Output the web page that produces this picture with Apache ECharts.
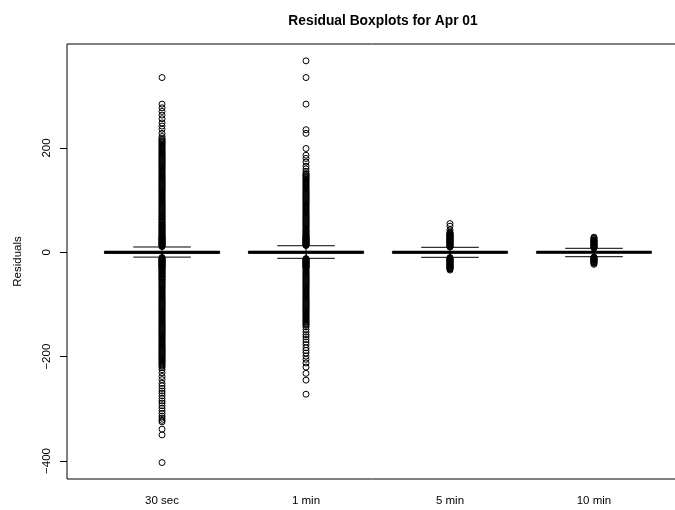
<!DOCTYPE html>
<html>
<head>
<meta charset="utf-8">
<title>Residual Boxplots for Apr 01</title>
<script src="https://cdn.jsdelivr.net/npm/echarts@6/dist/echarts.min.js"></script>
<style>
  html, body { margin: 0; padding: 0; background: #fff; }
  #chart { width: 675px; height: 510px; }
</style>
</head>
<body>
<div id="chart"></div>
<script>
// Aggregation windows shown along the x axis
const categories = ['30 sec', '1 min', '5 min', '10 min'];
const yTicks = [-400, -200, 0, 200];

// Five-number summaries per window
const whiskerLow  = [-9.2, -11.5, -9.6, -8.4];
const quartile1   = [-1.8, -1.6, -1.3, -0.8];
const medians     = [0, 0, 0, 0];
const quartile3   = [1.6, 1.7, 1.2, 0.8];
const whiskerHigh = [10.2, 12.6, 9.6, 7.7];

// Residuals lying beyond the whiskers
const outliers30s = [
  11, 12, 13, 14, 15, 16, 17, 18, 19, 20, 21, 22, 23, 24, 25, 26, 27, 28, 29, 30,
  32, 33, 35, 36, 38, 39, 41, 42, 44, 45, 47, 48, 50, 52, 53, 55, 57, 58, 60, 62,
  63, 65, 67, 69, 70, 72, 74, 76, 78, 80, 82, 84, 86, 88, 90, 92, 94, 96, 98, 100,
  102, 104, 106, 108, 110, 112, 114, 116, 118, 120, 122, 124, 126, 128, 130, 132,
  134, 136, 138, 140, 142, 144, 146, 148, 150, 152, 154, 156, 158, 160, 162, 164,
  166, 168, 170, 172, 174, 176, 178, 180, 182, 184, 186, 188, 190, 192, 194, 196,
  198, 200, 202, 204, 206, 208, 210, 212, 214, 216, 218,
  222, 228, 236, 242, 248, 256, 263, 270, 277, 284, 335,
  -10, -11, -12, -13, -14, -15, -16, -17, -18, -19, -20, -21, -22, -23, -24, -25,
  -26, -27, -28, -29, -30, -32, -33, -35, -36, -38, -39, -41, -42, -44, -46, -47,
  -49, -51, -52, -54, -56, -58, -60, -62, -64, -66, -68, -70, -72, -74, -76, -78,
  -80, -82, -84, -86, -88, -90, -92, -94, -96, -98, -100, -102, -104, -106, -108,
  -110, -112, -114, -116, -118, -120, -122, -124, -126, -128, -130, -132, -134,
  -136, -138, -140, -142, -144, -146, -148, -150, -152, -154, -156, -158, -160,
  -162, -164, -166, -168, -170, -172, -174, -176, -178, -180, -182, -184, -186,
  -188, -190, -192, -194, -196, -198, -200, -202, -204, -206, -208, -210, -212,
  -214, -216, -218, -221,
  -225, -231, -238, -244, -251, -256, -261, -266, -270, -275, -280, -285, -289,
  -294, -299, -304, -309, -314, -318, -322, -325, -339, -350, -403
];
const outliers1m = [
  13, 14, 15, 16, 17, 18, 19, 20, 21, 22, 23, 24, 25, 26, 27, 28, 29, 30, 32, 33,
  35, 36, 38, 40, 41, 43, 45, 47, 49, 51, 53, 55, 57, 59, 61, 63, 65, 67, 69, 71,
  73, 75, 77, 79, 81, 83, 85, 87, 89, 91, 93, 95, 97, 99, 101, 103, 105, 107, 109,
  111, 113, 115, 117, 119, 121, 123, 125, 127, 129, 131, 133, 135, 137, 139, 141,
  143, 145, 147, 149, 151,
  155, 160, 165, 173, 180, 186, 199, 228, 235, 284, 335, 367,
  -12, -13, -14, -15, -16, -17, -18, -19, -20, -21, -22, -23, -24, -25, -26, -27,
  -28, -29, -30, -32, -34, -36, -38, -40, -42, -44, -46, -48, -50, -52, -54, -56,
  -58, -60, -62, -64, -66, -68, -70, -72, -74, -76, -78, -80, -82, -84, -86, -88,
  -90, -92, -94, -96, -98, -100, -102, -104, -106, -108, -110, -112, -114, -116,
  -118, -120, -122, -124, -126, -128, -130, -132, -134, -136, -138, -140, -143,
  -148, -153, -158, -162, -167, -172, -177, -183, -188, -193, -199, -205, -212,
  -220, -232, -245, -272
];
const outliers5m = [
  10, 11, 12, 13, 14, 15, 16, 17, 18, 19, 20, 21, 22, 23, 24, 25, 26, 27, 28, 29,
  30, 31, 32, 33, 34, 35, 36, 37, 39, 43, 50, 55,
  -10, -11, -12, -13, -14, -15, -16, -17, -18, -19, -20, -21, -22, -23, -24, -25,
  -26, -27, -28, -29, -30, -31, -32, -34
];
const outliers10m = [
  8, 9, 10, 11, 12, 13, 14, 15, 16, 17, 18, 19, 20, 21, 22, 23, 24, 26, 27, 29,
  -9, -10, -11, -12, -13, -14, -15, -16, -17, -18, -19, -20, -21, -23
];

const outlierGroups = [outliers30s, outliers1m, outliers5m, outliers10m];

const boxData = categories.map((c, i) => [
  i + 1, whiskerLow[i], quartile1[i], medians[i], quartile3[i], whiskerHigh[i]
]);
const outlierData = [];
outlierGroups.forEach((vals, i) => {
  vals.forEach(v => outlierData.push([i + 1, v]));
});

const FONT = '"Liberation Sans", Arial, Helvetica, sans-serif';
const MINUS = '\u2212';

const chart = echarts.init(document.getElementById('chart'), null, { renderer: 'canvas' });

function renderBox(params, api) {
  const x = api.value(0);
  const cx = api.coord([x, 0])[0];
  const left = api.coord([x - 0.4, 0])[0];
  const right = api.coord([x + 0.4, 0])[0];
  const sLeft = api.coord([x - 0.2, 0])[0];
  const sRight = api.coord([x + 0.2, 0])[0];
  const yLo = api.coord([x, api.value(1)])[1];
  const yQ1 = api.coord([x, api.value(2)])[1];
  const yMed = api.coord([x, api.value(3)])[1];
  const yQ3 = api.coord([x, api.value(4)])[1];
  const yHi = api.coord([x, api.value(5)])[1];
  const thin = { stroke: '#000', lineWidth: 1, fill: null };
  const dashed = { stroke: '#000', lineWidth: 1, lineDash: [3, 3] };
  return {
    type: 'group',
    children: [
      { type: 'line', shape: { x1: cx, y1: yQ3, x2: cx, y2: yHi }, style: dashed },
      { type: 'line', shape: { x1: cx, y1: yQ1, x2: cx, y2: yLo }, style: dashed },
      { type: 'line', shape: { x1: sLeft, y1: yHi, x2: sRight, y2: yHi }, style: thin },
      { type: 'line', shape: { x1: sLeft, y1: yLo, x2: sRight, y2: yLo }, style: thin },
      { type: 'rect', shape: { x: left, y: yQ3, width: right - left, height: yQ1 - yQ3 },
        style: { stroke: '#000', lineWidth: 1, fill: '#fff' } },
      { type: 'line', shape: { x1: left, y1: yMed, x2: right, y2: yMed },
        style: { stroke: '#000', lineWidth: 3 } }
    ]
  };
}

chart.setOption({
  animation: false,
  backgroundColor: '#fff',
  title: {
    text: 'Residual Boxplots for Apr 01',
    left: 378,
    top: 9,
    textAlign: 'center',
    textStyle: { fontFamily: FONT, fontSize: 13.8, fontWeight: 'bold', color: '#000' }
  },
  grid: {
    left: 67, top: 44, width: 622, height: 435,
    outerBoundsMode: 'none',
    containLabel: false,
    show: true, borderColor: '#000', borderWidth: 1, backgroundColor: 'transparent'
  },
  xAxis: {
    type: 'value',
    min: 0.34,
    max: 4.66,
    axisLine: { show: false },
    splitLine: { show: false },
    axisTick: {
      show: true, length: 6, inside: false,
      customValues: [1, 2, 3, 4],
      lineStyle: { color: '#000', width: 1 }
    },
    axisLabel: {
      show: true,
      customValues: [1, 2, 3, 4],
      formatter: v => categories[Math.round(v) - 1] || '',
      margin: 16,
      fontFamily: FONT, fontSize: 11.5, color: '#000'
    }
  },
  yAxis: {
    type: 'value',
    min: -434.5,
    max: 399.3,
    name: 'Residuals',
    nameLocation: 'middle',
    nameRotate: 90,
    nameGap: 43,
    nameTextStyle: { fontFamily: FONT, fontSize: 11.5, color: '#000' },
    axisLine: { show: false },
    splitLine: { show: false },
    axisTick: {
      show: true, length: 7, inside: false,
      customValues: yTicks,
      lineStyle: { color: '#000', width: 1 }
    },
    axisLabel: {
      show: true,
      rotate: 90,
      customValues: yTicks,
      formatter: v => (v < 0 ? MINUS + Math.abs(v) : String(v)),
      margin: 14,
      fontFamily: FONT, fontSize: 11.5, color: '#000'
    }
  },
  series: [
    {
      type: 'scatter',
      data: outlierData,
      symbol: 'circle',
      symbolSize: 6,
      itemStyle: { color: 'rgba(0,0,0,0)', borderColor: '#000', borderWidth: 1, opacity: 1 },
      emphasis: { disabled: true },
      silent: true,
      z: 2
    },
    {
      type: 'custom',
      data: boxData,
      renderItem: renderBox,
      encode: { x: 0, y: [1, 2, 3, 4, 5] },
      silent: true,
      z: 3
    }
  ]
});
</script>
</body>
</html>
